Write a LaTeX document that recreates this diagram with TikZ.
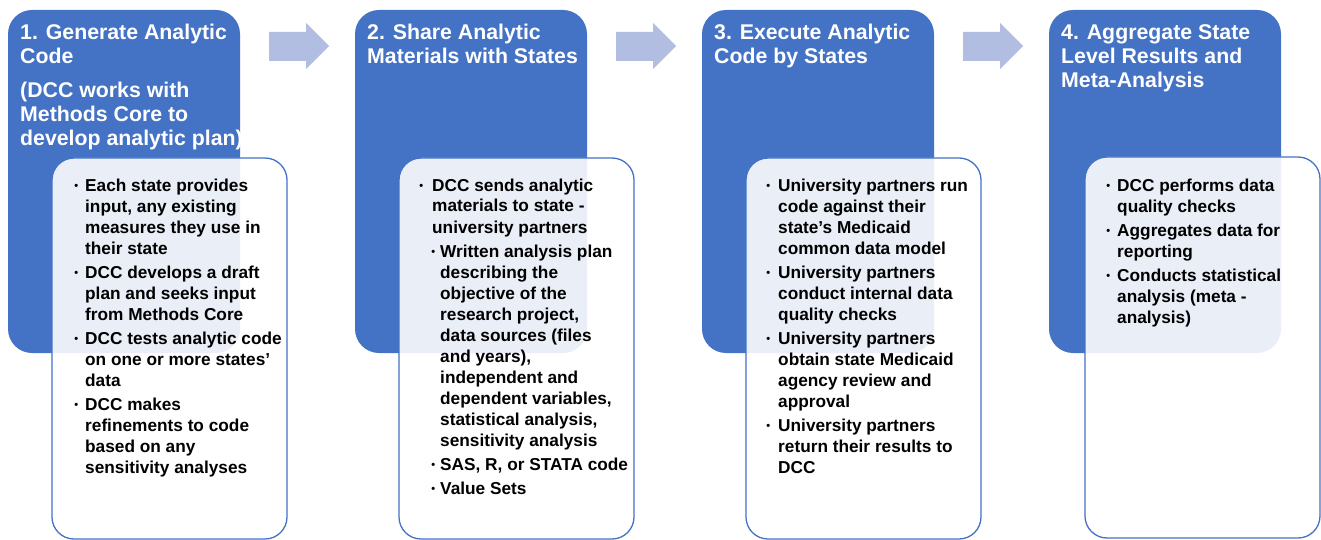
\documentclass[tikz,border=0pt]{standalone}
\usepackage{fontspec}
\setmainfont{Liberation Sans}
\definecolor{boxblue}{HTML}{4472C4}
\definecolor{paneltint}{HTML}{E9EEF7}
\definecolor{arrowblue}{HTML}{B1BEE1}
\newcommand\bulmark[1]{\llap{{\fontsize{11}{11}\selectfont\raisebox{1.6pt}{•}}\hspace{#1}}}
\begin{document}
\begin{tikzpicture}[x=1pt,y=-1pt,
  bluebox/.style={fill=boxblue, rounded corners=24pt, anchor=north west, inner sep=0pt, outer sep=0pt, minimum width=232pt, minimum height=343pt},
  panel/.style={fill=white, rounded corners=22pt, anchor=north west, inner sep=0pt, outer sep=0pt, minimum width=235pt, minimum height=381pt},
  panelborder/.style={draw=boxblue, line width=1.3pt, rounded corners=22pt},
  tint/.style={fill=paneltint, rounded corners=24pt},
  flowarrow/.style={fill=arrowblue},
  titletext/.style={anchor=base west, inner sep=0pt, text=white, font=\fontsize{21.3}{24}\selectfont\bfseries, align=left},
  itemtext/.style={anchor=base west, inner sep=0pt, text=black, font=\fontsize{17.25}{21}\selectfont\bfseries, align=left},
]
\useasboundingbox (0,0) rectangle (1321,540);

% ---------- blue step boxes and translucent panels ----------
\foreach \s/\p/\sx/\px/\py in {s1/p1/8/52/158, s2/p2/355/399/158, s3/p3/702/746/158, s4/p4/1049/1085/157}{
  \node[bluebox] (\s) at (\sx,10) {};
  \node[panel] (\p) at (\px,\py) {};
  \begin{scope}
    \clip[rounded corners=22pt] (\p.north west) rectangle (\p.south east);
    \fill[tint] (\s.north west) rectangle (\s.south east);
  \end{scope}
  \draw[panelborder] (\p.north west) rectangle (\p.south east);
}

% ---------- Step 1 ----------
\begin{scope}
  \clip[rounded corners=24pt] (s1.north west) rectangle (s1.south east);
  \node[titletext] (t1a) at (20,64) {1. Generate Analytic\\Code};
  \node[titletext] (t1b) at (20,146) {(DCC works with\\Methods Core to\\develop analytic plan)};
\end{scope}
\node[itemtext] (i1a) at (85,254) {\bulmark{7pt}Each state provides\\input, any existing\\measures they use in\\their state};
\node[itemtext] (i1b) at (85,320) {\bulmark{7pt}DCC develops a draft\\plan and seeks input\\from Methods Core};
\node[itemtext] (i1c) at (85,386) {\bulmark{7pt}DCC tests analytic code\\on one or more states’\\data};
\node[itemtext] (i1d) at (85,473) {\bulmark{7pt}DCC makes\\refinements to code\\based on any\\sensitivity analyses};

% ---------- Step 2 ----------
\node[titletext] (t2) at (367,64) {2. Share Analytic\\Materials with States};
\node[itemtext] (i2a) at (432,233) {\bulmark{9pt}DCC sends analytic\\materials to state -\\university partners};
\node[itemtext] (i2b) at (440,446) {\bulmark{5pt}Written analysis plan\\describing the\\objective of the\\research project,\\data sources (files\\and years),\\independent and\\dependent variables,\\statistical analysis,\\sensitivity analysis};
\node[itemtext] (i2c) at (440,470) {\bulmark{5pt}SAS, R, or STATA code};
\node[itemtext] (i2d) at (440,494) {\bulmark{5pt}Value Sets};

% ---------- Step 3 ----------
\node[titletext] (t3) at (714,64) {3. Execute Analytic\\Code by States};
\node[itemtext] (i3a) at (778,254) {\bulmark{8pt}University partners run\\code against their\\state’s Medicaid\\common data model};
\node[itemtext] (i3b) at (778,320) {\bulmark{8pt}University partners\\conduct internal data\\quality checks};
\node[itemtext] (i3c) at (778,407) {\bulmark{8pt}University partners\\obtain state Medicaid\\agency review and\\approval};
\node[itemtext] (i3d) at (778,473) {\bulmark{8pt}University partners\\return their results to\\DCC};

% ---------- Step 4 ----------
\node[titletext] (t4) at (1061,88) {4. Aggregate State\\Level Results and\\Meta-Analysis};
\node[itemtext] (i4a) at (1117,212) {\bulmark{7pt}DCC performs data\\quality checks};
\node[itemtext] (i4b) at (1117,257) {\bulmark{7pt}Aggregates data for\\reporting};
\node[itemtext] (i4c) at (1117,323) {\bulmark{7pt}Conducts statistical\\analysis (meta -\\analysis)};

% ---------- Arrows ----------
\foreach \dx in {0,347,694}{
  \fill[flowarrow] (269+\dx,32) -- (306+\dx,32) -- (306+\dx,23) -- (329+\dx,46)
    -- (306+\dx,69) -- (306+\dx,61) -- (269+\dx,61) -- cycle;
}
\end{tikzpicture}
\end{document}
